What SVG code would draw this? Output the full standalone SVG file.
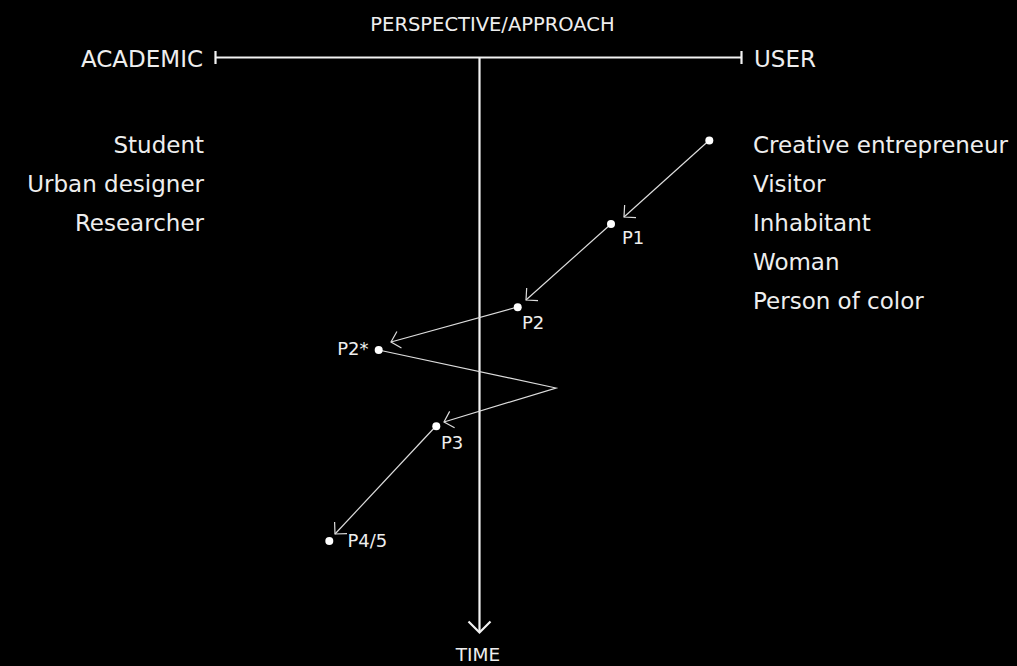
<svg xmlns="http://www.w3.org/2000/svg" width="1017" height="666" viewBox="0 0 1017 666">
<defs>
<style>
text{font-family:"DejaVu Sans","Noto Sans",sans-serif;fill:#eeeeee}
.big{font-size:23px}
.head{font-size:19.5px}
.item{font-size:23px}
.lab{font-size:18px}
.axis{stroke:#f2f2f2;stroke-width:2.2;fill:none}
.conn{stroke:#dddddd;stroke-width:1.2;fill:none;marker-end:url(#arr)}
.dot{fill:#ffffff}
</style>
<marker id="arr" markerUnits="userSpaceOnUse" markerWidth="20" markerHeight="20" viewBox="-14 -10 16 20" refX="0" refY="0" orient="auto">
<path d="M-8.5,-8.5 L0,0 L-8.5,8.5" fill="none" stroke="#dddddd" stroke-width="1.2"/>
</marker>
</defs>
<rect width="1017" height="666" fill="#000000"/>
<g id="axes">
<line class="axis" x1="215.5" y1="57.5" x2="741.5" y2="57.5"/>
<line class="axis" x1="215.5" y1="51" x2="215.5" y2="64"/>
<line class="axis" x1="741.5" y1="51" x2="741.5" y2="64"/>
<line class="axis" x1="479.5" y1="57.5" x2="479.5" y2="632" stroke-width="1.8"/>
<path class="axis" d="M468.5,621.5 L479.5,632.5 L490.5,621.5" stroke-width="2.6"/>
</g>
<g id="axis-labels">
<text class="head" x="492.5" y="30.5" text-anchor="middle">PERSPECTIVE/APPROACH</text>
<text class="big" x="203" y="66.5" text-anchor="end">ACADEMIC</text>
<text class="big" x="754" y="66.5">USER</text>
<text x="478" y="661" text-anchor="middle" font-size="18.5">TIME</text>
</g>
<g id="academic-roles">
<text class="item" x="204" y="152.5" text-anchor="end">Student</text>
<text class="item" x="204" y="191.5" text-anchor="end">Urban designer</text>
<text class="item" x="204" y="230.5" text-anchor="end">Researcher</text>
</g>
<g id="user-roles">
<text class="item" x="753" y="152.5">Creative entrepreneur</text>
<text class="item" x="753" y="191.5">Visitor</text>
<text class="item" x="753" y="230.5">Inhabitant</text>
<text class="item" x="753" y="269.5">Woman</text>
<text class="item" x="753" y="308.5">Person of color</text>
</g>
<g id="connectors">
<line class="conn" x1="709" y1="140.5" x2="624" y2="217"/>
<line class="conn" x1="611" y1="224" x2="526" y2="300"/>
<line class="conn" x1="517.5" y1="307" x2="391" y2="342"/>
<polyline class="conn" points="378.5,350 556,388 444,422"/>
<line class="conn" x1="436" y1="426" x2="335" y2="534"/>
</g>
<g id="start"><circle class="dot" cx="709.3" cy="140.5" r="4"/></g>
<g id="P1"><circle class="dot" cx="611" cy="224" r="4"/><text class="lab" x="622" y="244">P1</text></g>
<g id="P2"><circle class="dot" cx="517.7" cy="307.3" r="4"/><text class="lab" x="522" y="328.5">P2</text></g>
<g id="P2star"><circle class="dot" cx="378.7" cy="350" r="4"/><text class="lab" x="368.5" y="354.5" text-anchor="end">P2*</text></g>
<g id="P3"><circle class="dot" cx="436.3" cy="426.3" r="4"/><text class="lab" x="441" y="448.5">P3</text></g>
<g id="P45"><circle class="dot" cx="329.3" cy="541" r="4"/><text class="lab" x="347.5" y="546.5">P4/5</text></g>
</svg>
